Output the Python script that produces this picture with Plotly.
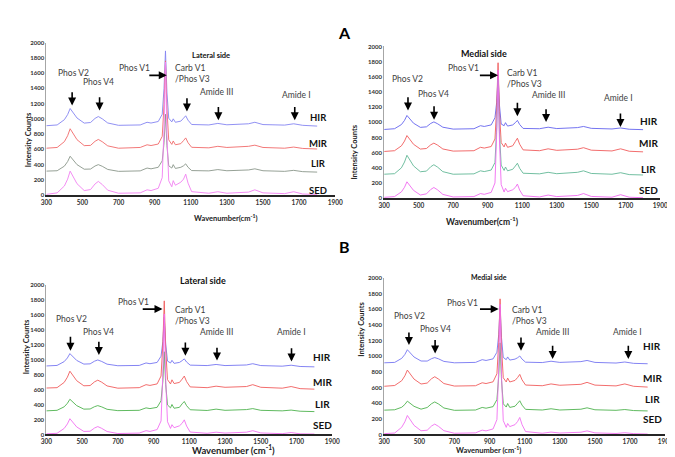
import plotly.graph_objects as go

# ---------------- data ----------------
wavenumber = [300, 360, 400, 418, 432, 445, 470, 510, 545, 570, 588, 610, 640, 700, 820,
              858, 880, 920, 942, 952, 960, 968, 978, 995, 1003, 1015, 1045, 1060, 1072,
              1085, 1105, 1200, 1250, 1300, 1420, 1455, 1500, 1620, 1670, 1720, 1800]

series_names = ["HIR", "MIR", "LIR", "SED"]

# Panel A - lateral side
a_lat_hir = [910, 920, 989, 1056, 1135, 1090, 1011, 944, 952, 1006, 1030, 1000, 946, 915, 920,
             955, 945, 965, 1060, 1400, 1890, 1351, 1008, 960, 1000, 955, 970, 1008, 1040,
             982, 926, 920, 940, 922, 935, 955, 925, 918, 935, 915, 905]
a_lat_mir = [615, 625, 701, 779, 870, 818, 727, 649, 652, 706, 730, 700, 646, 615, 625,
             660, 650, 670, 770, 1185, 1760, 1128, 725, 665, 710, 660, 675, 715, 750,
             687, 627, 620, 640, 625, 640, 655, 625, 615, 630, 612, 605]
a_lat_lir = [315, 320, 380, 440, 510, 470, 400, 340, 342, 382, 400, 378, 337, 312, 318,
             355, 345, 365, 450, 685, 1060, 648, 385, 355, 400, 350, 365, 385, 410,
             365, 322, 318, 335, 320, 330, 345, 320, 312, 325, 308, 302]
a_lat_sed = [10, 30, 120, 210, 315, 255, 150, 60, 73, 147, 180, 139, 65, 25, 30,
             70, 60, 90, 230, 880, 1745, 794, 188, 110, 190, 130, 170, 210, 275,
             158, 46, 25, 45, 25, 40, 70, 30, 20, 45, 15, 10]

# Panel A - medial side
a_med_hir = [905, 915, 970, 1025, 1090, 1053, 988, 933, 940, 985, 1005, 980, 935, 910, 915,
             955, 945, 965, 1060, 1265, 1625, 1229, 977, 955, 995, 950, 965, 995, 1025,
             971, 919, 915, 935, 917, 930, 945, 920, 912, 925, 908, 903]
a_med_mir = [615, 625, 689, 752, 825, 783, 710, 647, 654, 703, 725, 698, 648, 620, 625,
             670, 660, 680, 780, 1200, 1785, 1142, 732, 675, 725, 670, 690, 746, 790,
             711, 636, 625, 650, 630, 645, 665, 632, 622, 650, 618, 610]
a_med_lir = [315, 322, 399, 476, 565, 514, 425, 348, 356, 414, 440, 408, 349, 315, 320,
             360, 350, 370, 470, 935, 1560, 873, 435, 365, 410, 360, 380, 423, 460,
             393, 328, 320, 340, 322, 340, 360, 325, 315, 335, 310, 305]
a_med_sed = [10, 20, 82, 143, 215, 174, 102, 41, 56, 114, 140, 108, 49, 15, 20,
             60, 50, 75, 200, 850, 1690, 766, 178, 80, 130, 85, 110, 141, 185,
             106, 31, 15, 40, 20, 35, 60, 22, 12, 45, 12, 5]

# Panel B - lateral side
b_lat_hir = [915, 922, 973, 1022, 1080, 1047, 989, 940, 943, 979, 995, 975, 939, 918, 922,
             955, 945, 962, 1045, 1240, 1565, 1208, 980, 955, 990, 950, 962, 986, 1010,
             967, 926, 920, 935, 920, 928, 945, 920, 912, 925, 908, 903]
b_lat_mir = [620, 625, 695, 765, 845, 799, 718, 650, 653, 703, 725, 698, 648, 618, 625,
             665, 655, 675, 780, 1200, 1785, 1142, 732, 675, 730, 680, 695, 739, 780,
             706, 635, 625, 645, 630, 640, 665, 630, 618, 640, 612, 605]
b_lat_lir = [315, 322, 369, 416, 470, 439, 385, 338, 340, 371, 385, 368, 336, 318, 322,
             355, 345, 362, 450, 710, 1105, 671, 394, 355, 400, 350, 362, 409, 440,
             384, 330, 320, 338, 322, 332, 345, 322, 315, 325, 310, 305]
b_lat_sed = [8, 15, 80, 140, 210, 170, 100, 40, 43, 86, 105, 81, 39, 12, 18,
             50, 40, 65, 180, 810, 1610, 730, 170, 80, 130, 90, 115, 149, 195,
             112, 32, 15, 30, 18, 30, 50, 20, 10, 25, 8, 5]

# Panel B - medial side
b_med_hir = [915, 920, 972, 1022, 1082, 1048, 989, 938, 937, 968, 982, 965, 933, 915, 920,
             955, 945, 965, 1050, 1272, 1632, 1236, 984, 955, 990, 950, 962, 980, 1002,
             962, 923, 918, 935, 920, 930, 945, 920, 912, 925, 908, 903]
b_med_mir = [615, 625, 686, 749, 822, 780, 707, 644, 656, 712, 737, 706, 650, 618, 622,
             660, 650, 672, 775, 1172, 1732, 1116, 724, 670, 720, 670, 690, 728, 767,
             697, 631, 622, 645, 628, 640, 665, 630, 620, 645, 615, 605]
b_med_lir = [310, 315, 347, 383, 425, 401, 359, 323, 344, 393, 415, 388, 338, 308, 312,
             345, 335, 355, 445, 738, 1170, 694, 392, 350, 395, 345, 360, 399, 430,
             374, 320, 312, 328, 312, 322, 340, 315, 308, 318, 305, 300]
b_med_sed = [10, 18, 92, 162, 242, 196, 116, 47, 54, 108, 132, 102, 48, 15, 20,
             55, 45, 70, 190, 837, 1662, 755, 177, 90, 140, 100, 125, 166, 217,
             125, 37, 15, 30, 18, 28, 45, 20, 12, 22, 10, 5]

x_ticks = [300, 500, 700, 900, 1100, 1300, 1500, 1700, 1900]
y_ticks = [0, 200, 400, 600, 800, 1000, 1200, 1400, 1600, 1800, 2000]

peak_labels = ["Phos V2", "Phos V4", "Phos V1", "Carb V1<br>/Phos V3", "Amide III", "Amide I"]

# ---------------- figure ----------------
W, H = 675, 457
FONT = "Lato"

def px_x(p):
    return p / W

def px_y(p):
    return 1 - p / H

panels = [
    dict(ax="", data=[a_lat_hir, a_lat_mir, a_lat_lir, a_lat_sed],
         colors=["#8484f2", "#f06a6a", "#8a968a", "#f280f2"],
         xd=[33, 328], yd=[186, 31], title="Lateral side", tpos=(180, 38), tsize=7.5,
         ytitle=(9, 100), xt="Wavenumber(cm<sup>-1</sup>)", xtpos=(182, 209), xtsize=7.5,
         v2=(452, 1596, 443, 1368, 1174), v4=(591, 1488, 595, 1303, 1110),
         v1=(790, 1660, 862, 967, 1570), carb=(1003, 1590, 1079, 1290, 1097),
         a3=(1242, 1346, 1253, 1174, 981), a1=(1685, 1316, 1676, 1174, 981),
         lab_x=1805, lab_y=[1015, 671, 413, 65], labsize=9.5),
    dict(ax="2", data=[a_med_hir, a_med_mir, a_med_lir, a_med_sed],
         colors=["#6464ee", "#f05c5c", "#62b896", "#f06af0"],
         xd=[378, 660], yd=[189, 35], title="Medial side", tpos=(505, 35), tsize=9,
         ytitle=(348, 112), xt="Wavenumber(cm<sup>-1</sup>)", xtpos=(518, 212), xtsize=8.5,
         v2=(434, 1567, 438, 1350, 1156), v4=(585, 1372, 589, 1230, 1035),
         v1=(760, 1710, 846, 960, 1619), carb=(1002, 1578, 1072, 1277, 1078),
         a3=(1252, 1364, 1238, 1190, 1004), a1=(1660, 1320, 1669, 1134, 939),
         lab_x=1834, lab_y=[1013, 723, 385, 104], labsize=10),
    dict(ax="3", data=[b_lat_hir, b_lat_mir, b_lat_lir, b_lat_sed],
         colors=["#7676f2", "#f05c5c", "#4eb24e", "#f270f2"],
         xd=[33, 325], yd=[429, 277], title="Lateral side", tpos=(167, 273), tsize=9,
         ytitle=(6, 370), xt="Wavenumber (cm<sup>-1</sup>)", xtpos=(180, 453), xtsize=9.5,
         v2=(439, 1544, 435, 1325, 1118), v4=(594, 1368, 594, 1259, 1062),
         v1=(786, 1763, 831, 950, 1675), carb=(1010, 1590, 1078, 1250, 1053),
         a3=(1252, 1368, 1255, 1180, 987), a1=(1672, 1368, 1672, 1171, 974),
         lab_x=1845, lab_y=[1039, 701, 404, 128], labsize=10),
    dict(ax="4", data=[b_med_hir, b_med_mir, b_med_lir, b_med_sed],
         colors=["#7676f2", "#f05c5c", "#4eb24e", "#f270f2"],
         xd=[378, 665], yd=[429, 270], title="Medial side", tpos=(505, 269), tsize=7,
         ytitle=(354, 352), xt="Wavenumber (cm<sup>-1</sup>)", xtpos=(520, 452), xtsize=7.5,
         v2=(447, 1518, 441, 1321, 1141), v4=(594, 1342, 590, 1224, 1035),
         v1=(748, 1677, 837, 952, 1601), carb=(1017, 1525, 1079, 1258, 1069),
         a3=(1259, 1308, 1259, 1153, 965), a1=(1686, 1308, 1690, 1153, 965),
         lab_x=1826, lab_y=[1128, 721, 449, 197], labsize=10),
]

fig = go.Figure()
annotations = []
layout = dict(width=W, height=H, margin=dict(l=0, r=0, t=0, b=0),
              paper_bgcolor="white", plot_bgcolor="white", showlegend=False,
              font=dict(family=FONT, color="#333333"))

label_col = "#404040"
for p in panels:
    xa = "x" + p["ax"]
    ya = "y" + p["ax"]
    for name, vals, col in zip(series_names, p["data"], p["colors"]):
        fig.add_trace(go.Scatter(x=wavenumber, y=vals, mode="lines", name=name,
                                 line=dict(color=col, width=0.9), xaxis=xa, yaxis=ya,
                                 hoverinfo="skip"))
    layout["xaxis" + p["ax"]] = dict(
        domain=[px_x(p["xd"][0]), px_x(p["xd"][1])], range=[300, 1900],
        tickvals=x_ticks, showgrid=False, zeroline=False, showline=True,
        linecolor="#262626", linewidth=1.5, ticks="",
        tickfont=dict(family=FONT, size=6.5, color="#333333", weight="bold"),
        anchor=ya)
    layout["yaxis" + p["ax"]] = dict(
        domain=[px_y(p["yd"][0]), px_y(p["yd"][1])], range=[0, 2000],
        tickvals=y_ticks, showgrid=False, zeroline=False, showline=True,
        linecolor="#a6a6a6", linewidth=1, ticks="",
        tickfont=dict(family=FONT, size=6, color="#333333", weight="bold"),
        anchor=xa)
    # titles
    annotations.append(dict(text=p["title"], x=px_x(p["tpos"][0]), y=px_y(p["tpos"][1]),
                            xref="paper", yref="paper", showarrow=False,
                            font=dict(family=FONT, size=p["tsize"], color="#111111", weight="bold")))
    annotations.append(dict(text="Intensity Counts", x=px_x(p["ytitle"][0]), y=px_y(p["ytitle"][1]),
                            xref="paper", yref="paper", showarrow=False, textangle=-90,
                            font=dict(family=FONT, size=7.5, color="#222222", weight="bold")))
    annotations.append(dict(text=p["xt"], x=px_x(p["xtpos"][0]), y=px_y(p["xtpos"][1]),
                            xref="paper", yref="paper", showarrow=False,
                            font=dict(family=FONT, size=p["xtsize"], color="#222222", weight="bold")))
    # peak labels + down arrows
    for key, lab in zip(["v2", "v4", "a3", "a1"], [peak_labels[0], peak_labels[1], peak_labels[4], peak_labels[5]]):
        tx, ty, axx, ytop, ytip = p[key]
        annotations.append(dict(text=lab, x=tx, y=ty, xref=xa, yref=ya, showarrow=False,
                                font=dict(family=FONT, size=8.5, color=label_col)))
        annotations.append(dict(text="", x=axx, y=ytip, ax=axx, ay=ytop, xref=xa, yref=ya,
                                axref=xa, ayref=ya, showarrow=True, arrowhead=2,
                                arrowsize=1, arrowwidth=1.6, arrowcolor="black"))
    tx, ty, x1, x2, yy = p["v1"]
    annotations.append(dict(text=peak_labels[2], x=tx, y=ty, xref=xa, yref=ya, showarrow=False,
                            font=dict(family=FONT, size=8.5, color=label_col)))
    annotations.append(dict(text="", x=x2, y=yy, ax=x1, ay=yy, xref=xa, yref=ya,
                            axref=xa, ayref=ya, showarrow=True, arrowhead=2,
                            arrowsize=1, arrowwidth=1.6, arrowcolor="black"))
    tx, ty, axx, ytop, ytip = p["carb"]
    annotations.append(dict(text=peak_labels[3], x=tx, y=ty, xref=xa, yref=ya, showarrow=False,
                            xanchor="left", align="left",
                            font=dict(family=FONT, size=8.5, color=label_col)))
    annotations.append(dict(text="", x=axx, y=ytip, ax=axx, ay=ytop, xref=xa, yref=ya,
                            axref=xa, ayref=ya, showarrow=True, arrowhead=2,
                            arrowsize=1, arrowwidth=1.6, arrowcolor="black"))
    # series labels
    for name, ly in zip(series_names, p["lab_y"]):
        annotations.append(dict(text=name, x=p["lab_x"], y=ly, xref=xa, yref=ya, showarrow=False,
                                font=dict(family=FONT, size=p["labsize"], color="#111111", weight="bold")))

annotations.append(dict(text="A", x=px_x(337), y=px_y(9), xref="paper", yref="paper", showarrow=False,
                        font=dict(family=FONT, size=16, color="black", weight="bold")))
annotations.append(dict(text="B", x=px_x(337), y=px_y(238), xref="paper", yref="paper", showarrow=False,
                        font=dict(family=FONT, size=16, color="black", weight="bold")))

layout["annotations"] = annotations
fig.update_layout(**layout)
fig.write_html("out.html")
